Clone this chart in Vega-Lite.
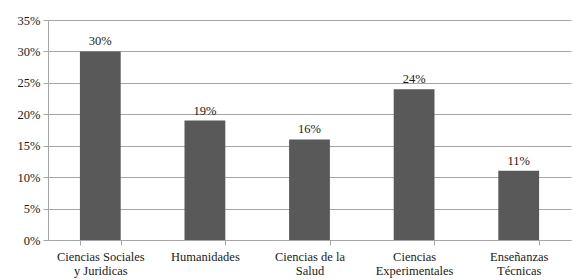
{
  "$schema": "https://vega.github.io/schema/vega-lite/v6.json",
  "width": 523,
  "height": 220,
  "autosize": {"type": "none"},
  "padding": {"left": 48, "top": 20, "right": 1, "bottom": 40},
  "background": "white",
  "config": {
    "view": {"stroke": null},
    "font": "Liberation Serif"
  },
  "data": {
    "values": [
      {"area": "Ciencias Sociales|y Juridicas", "value": 0.30},
      {"area": "Humanidades", "value": 0.19},
      {"area": "Ciencias de la|Salud", "value": 0.16},
      {"area": "Ciencias|Experimentales", "value": 0.24},
      {"area": "Enseñanzas|Técnicas", "value": 0.11}
    ]
  },
  "encoding": {
    "x": {
      "field": "area",
      "type": "nominal",
      "sort": null,
      "scale": {"paddingInner": 0.61, "paddingOuter": 0.305},
      "axis": {
        "title": null,
        "labelAngle": 0,
        "labelExpr": "split(datum.label, '|')",
        "labelFont": "Liberation Serif",
        "labelFontSize": 12.5,
        "labelColor": "#1a1a1a",
        "labelPadding": 5,
        "labelLineHeight": 14,
        "tickBand": "extent",
        "tickSize": 5,
        "tickColor": "#a6a6a6",
        "domainColor": "#a6a6a6",
        "grid": false
      }
    },
    "y": {
      "field": "value",
      "type": "quantitative",
      "scale": {"domain": [0, 0.35]},
      "axis": {
        "title": null,
        "format": ".0%",
        "values": [0, 0.05, 0.1, 0.15, 0.2, 0.25, 0.3, 0.35],
        "labelFont": "Liberation Serif",
        "labelFontSize": 12.5,
        "labelColor": "#1a1a1a",
        "labelPadding": 3,
        "tickSize": 5,
        "tickColor": "#a6a6a6",
        "domainColor": "#a6a6a6",
        "gridColor": "#a6a6a6",
        "grid": true
      }
    }
  },
  "layer": [
    {"mark": {"type": "bar", "color": "#595959"}},
    {
      "mark": {"type": "text", "dy": -10, "font": "Liberation Serif", "fontSize": 12.5, "color": "#1a1a1a"},
      "encoding": {"text": {"field": "value", "type": "quantitative", "format": ".0%"}}
    }
  ]
}
